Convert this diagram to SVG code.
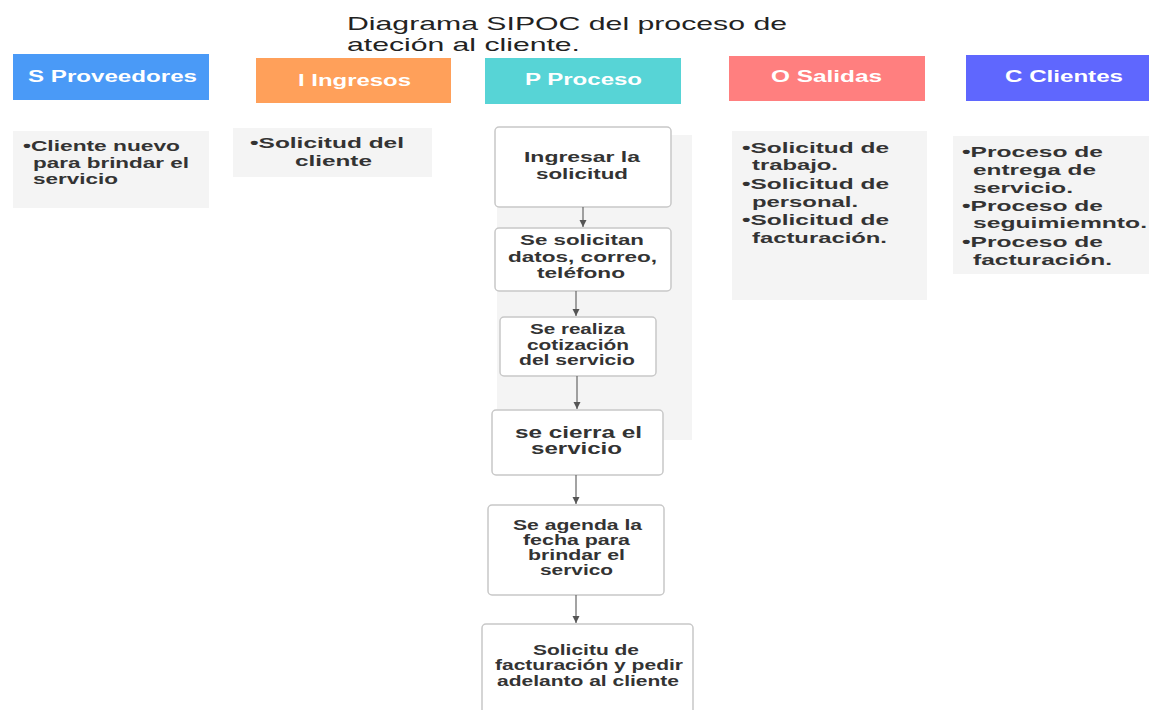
<svg xmlns="http://www.w3.org/2000/svg" width="1149" height="710" viewBox="0 0 1149 710">
<style>
text{font-family:"Liberation Sans",Arial,sans-serif}
.t{font-weight:bold;font-size:15px;fill:#333333}
.s{font-size:14px}
.b{font-size:16px}
.h{font-weight:bold;font-size:16px;fill:#ffffff}
.title{font-size:19px;fill:#222222}
.card{fill:#f4f4f4}
.pbox{fill:#ffffff;stroke:#c8c8c8;stroke-width:1.5}
.conn{stroke:#666666;stroke-width:1.2;fill:none;marker-end:url(#ah)}
</style>
<defs>
<marker id="ah" viewBox="0 0 8 8" refX="7" refY="4" markerWidth="8" markerHeight="8" markerUnits="userSpaceOnUse" orient="auto">
<path d="M0,0.5 L7,4 L0,7.5 Z" fill="#555555"/>
</marker>
</defs>
<rect width="1149" height="710" fill="#ffffff"/>

<g id="title">
<text class="title" x="347" y="29.5" textLength="440" lengthAdjust="spacingAndGlyphs">Diagrama SIPOC del proceso de</text>
<text class="title" x="347" y="51" textLength="233" lengthAdjust="spacingAndGlyphs">ateción  al cliente.</text>
</g>

<g id="header-s">
<rect x="13" y="54" width="196" height="46" fill="#4a9af7"/>
<text class="h" x="28" y="82" textLength="169" lengthAdjust="spacingAndGlyphs">S Proveedores</text>
</g>
<g id="header-i">
<rect x="256" y="58" width="195" height="45" fill="#ffa05a"/>
<text class="h" x="298" y="86" textLength="113" lengthAdjust="spacingAndGlyphs">I Ingresos</text>
</g>
<g id="header-p">
<rect x="485" y="58" width="196" height="46" fill="#57d4d6"/>
<text class="h" x="525" y="85" textLength="117" lengthAdjust="spacingAndGlyphs">P Proceso</text>
</g>
<g id="header-o">
<rect x="729" y="56" width="196" height="45" fill="#ff7f7f"/>
<text class="h" x="771" y="82" textLength="111" lengthAdjust="spacingAndGlyphs">O Salidas</text>
</g>
<g id="header-c">
<rect x="966" y="55" width="183" height="46" fill="#5f67fe"/>
<text class="h" x="1005" y="82" textLength="118" lengthAdjust="spacingAndGlyphs">C Clientes</text>
</g>

<g id="card-s">
<rect class="card" x="13" y="131" width="196" height="77"/>
<text class="t" x="23" y="151" textLength="157" lengthAdjust="spacingAndGlyphs">•Cliente nuevo</text>
<text class="t" x="33" y="168" textLength="156" lengthAdjust="spacingAndGlyphs">para brindar el</text>
<text class="t" x="33" y="184" textLength="85" lengthAdjust="spacingAndGlyphs">servicio</text>
</g>
<g id="card-i">
<rect class="card" x="233" y="128" width="199" height="49"/>
<text class="t" x="250" y="148" textLength="154" lengthAdjust="spacingAndGlyphs">•Solicitud del</text>
<text class="t" x="295" y="166" textLength="77" lengthAdjust="spacingAndGlyphs">cliente</text>
</g>
<g id="card-p">
<rect class="card" x="497" y="135" width="195" height="305"/>
</g>
<g id="card-o">
<rect class="card" x="732" y="131" width="195" height="169"/>
<text class="t" x="742" y="153" textLength="147" lengthAdjust="spacingAndGlyphs">•Solicitud de</text>
<text class="t" x="752" y="170" textLength="86" lengthAdjust="spacingAndGlyphs">trabajo.</text>
<text class="t" x="742" y="189" textLength="147" lengthAdjust="spacingAndGlyphs">•Solicitud de</text>
<text class="t" x="752" y="207" textLength="106" lengthAdjust="spacingAndGlyphs">personal.</text>
<text class="t" x="742" y="225" textLength="147" lengthAdjust="spacingAndGlyphs">•Solicitud de</text>
<text class="t" x="752" y="243" textLength="135" lengthAdjust="spacingAndGlyphs">facturación.</text>
</g>
<g id="card-c">
<rect class="card" x="953" y="136" width="196" height="138"/>
<text class="t" x="962" y="157" textLength="141" lengthAdjust="spacingAndGlyphs">•Proceso de</text>
<text class="t" x="973" y="175" textLength="123" lengthAdjust="spacingAndGlyphs">entrega de</text>
<text class="t" x="973" y="193" textLength="100" lengthAdjust="spacingAndGlyphs">servicio.</text>
<text class="t" x="962" y="211" textLength="141" lengthAdjust="spacingAndGlyphs">•Proceso de</text>
<text class="t" x="973" y="228" textLength="174" lengthAdjust="spacingAndGlyphs">seguimiemnto.</text>
<text class="t" x="962" y="247" textLength="141" lengthAdjust="spacingAndGlyphs">•Proceso de</text>
<text class="t" x="973" y="265" textLength="139" lengthAdjust="spacingAndGlyphs">facturación.</text>
</g>

<g id="step1">
<rect class="pbox" x="495" y="127" width="176" height="80" rx="4"/>
<text class="t" x="524" y="162" textLength="116" lengthAdjust="spacingAndGlyphs">Ingresar la</text>
<text class="t" x="536" y="179" textLength="92" lengthAdjust="spacingAndGlyphs">solicitud</text>
</g>
<g id="step2">
<rect class="pbox" x="495" y="228" width="176" height="63" rx="4"/>
<text class="t" x="520" y="245" textLength="124" lengthAdjust="spacingAndGlyphs">Se solicitan</text>
<text class="t" x="508" y="262" textLength="149" lengthAdjust="spacingAndGlyphs">datos, correo,</text>
<text class="t" x="537" y="278" textLength="88" lengthAdjust="spacingAndGlyphs">teléfono</text>
</g>
<g id="step3">
<rect class="pbox" x="500" y="317" width="156" height="59" rx="4"/>
<text class="t s" x="530" y="334" textLength="95" lengthAdjust="spacingAndGlyphs">Se realiza</text>
<text class="t s" x="527" y="350" textLength="102" lengthAdjust="spacingAndGlyphs">cotización</text>
<text class="t s" x="519" y="365" textLength="116" lengthAdjust="spacingAndGlyphs">del servicio</text>
</g>
<g id="step4">
<rect class="pbox" x="492" y="410" width="171" height="65" rx="4"/>
<text class="t b" x="515" y="438" textLength="127" lengthAdjust="spacingAndGlyphs">se cierra el</text>
<text class="t b" x="531" y="454" textLength="91" lengthAdjust="spacingAndGlyphs">servicio</text>
</g>
<g id="step5">
<rect class="pbox" x="488" y="505" width="176" height="90" rx="4"/>
<text class="t s" x="513" y="530" textLength="129" lengthAdjust="spacingAndGlyphs">Se agenda la</text>
<text class="t s" x="523" y="545" textLength="107" lengthAdjust="spacingAndGlyphs">fecha para</text>
<text class="t s" x="528" y="560" textLength="97" lengthAdjust="spacingAndGlyphs">brindar el</text>
<text class="t s" x="540" y="575" textLength="73" lengthAdjust="spacingAndGlyphs">servico</text>
</g>
<g id="step6">
<rect class="pbox" x="482" y="624" width="211" height="100" rx="4"/>
<text class="t s" x="533" y="655" textLength="106" lengthAdjust="spacingAndGlyphs">Solicitu de</text>
<text class="t s" x="495" y="670" textLength="188" lengthAdjust="spacingAndGlyphs">facturación y pedir</text>
<text class="t s" x="497" y="686" textLength="182" lengthAdjust="spacingAndGlyphs">adelanto al cliente</text>
</g>

<g id="connectors">
<line class="conn" x1="583" y1="207" x2="583" y2="227"/>
<line class="conn" x1="576" y1="291" x2="576" y2="316"/>
<line class="conn" x1="577" y1="376" x2="577" y2="409"/>
<line class="conn" x1="576" y1="475" x2="576" y2="504"/>
<line class="conn" x1="576" y1="595" x2="576" y2="623"/>
</g>
</svg>
